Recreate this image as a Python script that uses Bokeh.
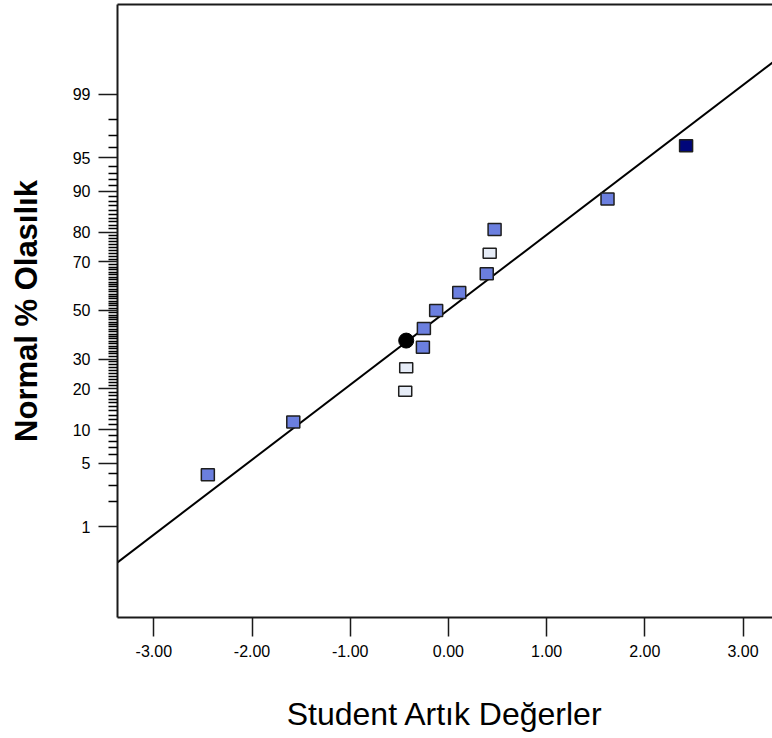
from statistics import NormalDist

from bokeh.plotting import figure
from bokeh.models import (FixedTicker, CustomJSTickFormatter, PrintfTickFormatter,
                          LinearAxis, Range1d, ColumnDataSource)
from bokeh.embed import file_html
from bokeh.resources import INLINE

# ---------------- data ----------------
# Studentized residuals and their normal % probability
blue_resid = [-2.45, -1.58, -0.26, -0.25, -0.125, 0.11, 0.39, 0.47, 1.62]
blue_pct = [3.85, 11.5, 34.6, 42.3, 50.0, 57.7, 65.4, 80.8, 88.5]

navy_resid = [2.42]
navy_pct = [96.2]

white_resid = [-0.44, -0.43, 0.42]
white_pct = [19.2, 26.9, 73.1]

selected_resid = [-0.43]
selected_pct = [37.3]

# reference line (ends at the plot edges)
line_resid = [-3.37, 3.30]
line_pct = [0.335, 99.62]

# axes
x_ticks = [-3, -2, -1, 0, 1, 2, 3]
y_major_pct = [1, 5, 10, 20, 30, 50, 70, 80, 90, 95, 99]
y_major_labels = ["1", "5", "10", "20", "30", "50", "70", "80", "90", "95", "99"]
y_minor_pct = [v for v in range(2, 99) if v not in y_major_pct]

x_title = "Student Artık Değerler"
y_title = "Normal % Olasılık"

# ---------------- probability scale ----------------
nd = NormalDist()


def probit(pcts):
    return [nd.inv_cdf(v / 100.0) for v in pcts]


FONT = "Liberation Sans"

p = figure(width=772, height=738, output_backend="svg", toolbar_location=None,
           x_range=Range1d(-3.37, 3.30), y_range=Range1d(-3.305, 3.294),
           min_border_left=117, min_border_right=0, min_border_top=4,
           min_border_bottom=121)
p.background_fill_color = "white"
p.border_fill_color = "white"
p.outline_line_color = None
p.xgrid.visible = False
p.ygrid.visible = False

# x axis
xa = p.xaxis[0]
xa.ticker = FixedTicker(ticks=x_ticks)
xa.formatter = PrintfTickFormatter(format="%.2f")
xa.major_tick_out = 19
xa.major_tick_in = 0
xa.minor_tick_out = 0
xa.minor_tick_in = 0
xa.axis_line_width = 2
xa.axis_line_color = "#1a1a1a"
xa.major_tick_line_width = 1.5
xa.major_tick_line_color = "#1a1a1a"
xa.major_label_standoff = 8
xa.major_label_text_font = FONT
xa.major_label_text_font_size = "16px"
xa.major_label_text_color = "black"
xa.axis_label = x_title
xa.axis_label_text_font = FONT
xa.axis_label_text_font_size = "32px"
xa.axis_label_text_font_style = "normal"
xa.axis_label_text_color = "black"
xa.axis_label_standoff = 36

# y axis
ya = p.yaxis[0]
y_major_z = probit(y_major_pct)
ya.ticker = FixedTicker(ticks=y_major_z, minor_ticks=probit(y_minor_pct))
ya.formatter = CustomJSTickFormatter(
    args=dict(zs=y_major_z, labs=y_major_labels),
    code="""
    for (let i = 0; i < zs.length; i++) {
        if (Math.abs(zs[i] - tick) < 1e-6) { return labs[i]; }
    }
    return "";
    """)
ya.major_tick_out = 19
ya.major_tick_in = 0
ya.minor_tick_out = 9
ya.minor_tick_in = 0
ya.axis_line_width = 2
ya.axis_line_color = "#1a1a1a"
ya.major_tick_line_width = 1.5
ya.major_tick_line_color = "#1a1a1a"
ya.minor_tick_line_width = 1.5
ya.minor_tick_line_color = "black"
ya.major_label_standoff = 8
ya.major_label_text_font = FONT
ya.major_label_text_font_size = "16px"
ya.major_label_text_color = "black"
ya.axis_label = y_title
ya.axis_label_text_font = FONT
ya.axis_label_text_font_size = "31px"
ya.axis_label_text_font_style = "bold"
ya.axis_label_text_color = "black"
ya.axis_label_standoff = 26

# top border as a bare axis
top = LinearAxis(ticker=FixedTicker(ticks=[]), major_label_text_font_size="0px",
                 major_tick_out=0, major_tick_in=0, minor_tick_out=0, minor_tick_in=0,
                 major_label_standoff=0, axis_line_width=2, axis_line_color="#1a1a1a")
p.add_layout(top, "above")

# reference line
p.line(line_resid, probit(line_pct), line_color="black", line_width=2)

# points
src_blue = ColumnDataSource(dict(x=blue_resid, y=probit(blue_pct)))
src_navy = ColumnDataSource(dict(x=navy_resid, y=probit(navy_pct)))
src_white = ColumnDataSource(dict(x=white_resid, y=probit(white_pct)))
src_sel = ColumnDataSource(dict(x=selected_resid, y=probit(selected_pct)))

p.rect("x", "y", width=13, height=12, width_units="screen", height_units="screen",
       source=src_blue, fill_color="#6b7fdf", line_color="#1e1e1e", line_width=1.5)
p.rect("x", "y", width=13, height=12, width_units="screen", height_units="screen",
       source=src_navy, fill_color="#00067a", line_color="#1e1e1e", line_width=1.5)
p.rect("x", "y", width=13, height=10, width_units="screen", height_units="screen",
       source=src_white, fill_color="#e6ecf7", line_color="#1e1e1e", line_width=1.5)
p.scatter("x", "y", source=src_sel, marker="circle", size=15,
          fill_color="black", line_color="black")

open("out.html", "w").write(file_html(p, INLINE))
